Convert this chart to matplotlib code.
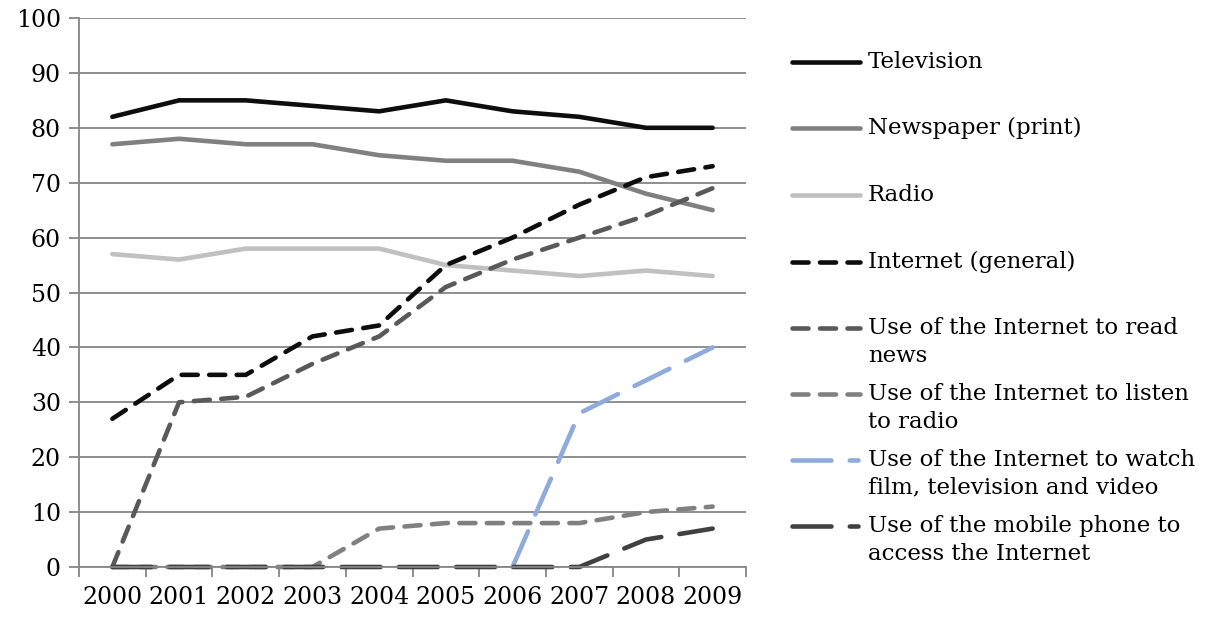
import matplotlib.pyplot as plt

years = ['2000', '2001', '2002', '2003', '2004', '2005', '2006', '2007', '2008', '2009']
nan = float('nan')

television = [82, 85, 85, 84, 83, 85, 83, 82, 80, 80]
newspaper = [77, 78, 77, 77, 75, 74, 74, 72, 68, 65]
radio = [57, 56, 58, 58, 58, 55, 54, 53, 54, 53]
internet = [27, 35, 35, 42, 44, 55, 60, 66, 71, 73]
read_news = [0, 30, 31, 37, 42, 51, 56, 60, 64, 69]
listen_radio = [0, 0, 0, 0, 7, 8, 8, 8, 10, 11]
watch_video = [nan, nan, nan, nan, nan, nan, 0, 28, 34, 40]
mobile = [0, 0, 0, 0, 0, 0, 0, 0, 5, 7]

labels = ['Television', 'Newspaper (print)', 'Radio', 'Internet (general)',
          'Use of the Internet to read\nnews',
          'Use of the Internet to listen\nto radio',
          'Use of the Internet to watch\nfilm, television and video',
          'Use of the mobile phone to\naccess the Internet']

SOLID = None
SHORT = (3.5, 2.5)
LONG = (8.5, 4)
series = [
    (television, '#0d0d0d', SOLID),
    (newspaper, '#808080', SOLID),
    (radio, '#c0c0c0', SOLID),
    (internet, '#0d0d0d', SHORT),
    (read_news, '#595959', SHORT),
    (listen_radio, '#808080', SHORT),
    (watch_video, '#8faadc', LONG),
    (mobile, '#404040', LONG),
]

plt.rcParams['font.family'] = ['DejaVu Serif']
plt.rcParams['font.size'] = 16.5

fig = plt.figure(figsize=(12.07, 6.17), dpi=100)
ax = fig.add_axes([79 / 1207, 1 - 567 / 617, 667 / 1207, 549 / 617])

x = list(range(len(years)))
lw = 3.3


def style(line, dashes):
    if dashes is None:
        line.set_solid_capstyle('round')
    else:
        line.set_dashes(dashes)
        line.set_dash_capstyle('round')


# later series sit on top of earlier ones
for vals, color, dashes in series:
    ln, = ax.plot(x, vals, color=color, lw=lw, clip_on=False)
    style(ln, dashes)

ax.set_xlim(-0.5, 9.5)
ax.set_ylim(0, 100)
ax.set_yticks(range(0, 101, 10))
ax.yaxis.grid(True, color='#868686', lw=1.3)
ax.set_axisbelow(True)

ax.set_xticks(x)
ax.set_xticklabels(years, fontsize=17)
ax.set_xticks([i - 0.5 for i in range(len(years) + 1)], minor=True)
ax.tick_params(axis='x', which='major', length=0, pad=14)
ax.tick_params(axis='x', which='minor', length=7, width=1.3, color='#868686', direction='out')
ax.tick_params(axis='y', length=7, width=1.3, color='#868686', pad=6, labelsize=17)

for side in ['top', 'right']:
    ax.spines[side].set_visible(False)
for side in ['left', 'bottom']:
    ax.spines[side].set_color('#868686')
    ax.spines[side].set_linewidth(1.3)

# legend drawn by hand so the key sits level with the first text line
lg = fig.add_axes([0, 0, 1, 1])
lg.set_xlim(0, 1207)
lg.set_ylim(617, 0)
lg.axis('off')
entry_y = [62, 128, 195, 262, 328, 394, 460, 526]
for (vals, color, dashes), label, y in zip(series, labels, entry_y):
    end = 858 if dashes == LONG else 860
    ln, = lg.plot([792, end], [y, y], color=color, lw=lw)
    style(ln, dashes)
    lg.text(868, y - 11, label, va='top', ha='left', fontsize=16.5, linespacing=1.33)

fig.savefig('out.png', dpi=100)
